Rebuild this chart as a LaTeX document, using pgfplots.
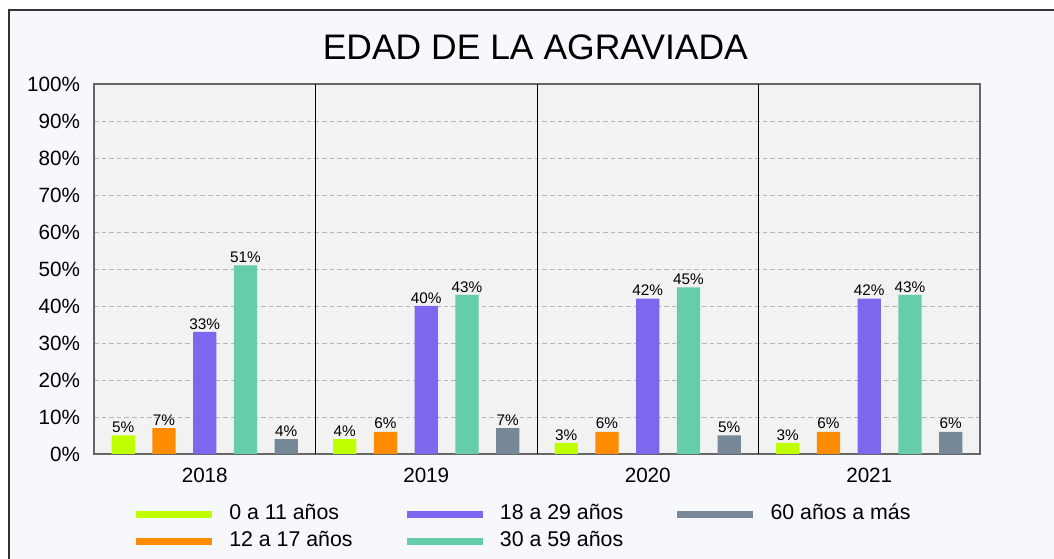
\documentclass[border=0pt]{standalone}
\usepackage{pgfplots}
\pgfplotsset{compat=1.18}
\usepackage{fontspec}
\setmainfont{Liberation Sans}
\definecolor{cA}{HTML}{BFFF00}
\definecolor{cB}{HTML}{FF8C00}
\definecolor{cC}{HTML}{7B68EE}
\definecolor{cD}{HTML}{66CDAA}
\definecolor{cE}{HTML}{778899}
\definecolor{frameBg}{HTML}{F7F8FC}
\definecolor{frameLine}{HTML}{333333}
\definecolor{plotBg}{HTML}{F2F2F2}
\definecolor{gridC}{HTML}{B4B4B4}
\definecolor{axisC}{HTML}{666666}
\begin{document}
\begin{tikzpicture}[x=1pt,y=1pt]
\useasboundingbox (0,0) rectangle (790.5,-419.25);
\fill[white] (0,0) rectangle (790.5,-419.25);
\begin{scope}
\clip (0,0) rectangle (790.5,-419.25);
\filldraw[fill=frameBg, draw=frameLine, line width=1.1pt] (6.75,-7.5) rectangle (800,-430);
\end{scope}
\node[font=\fontsize{26.6}{30}\selectfont] at (401.5,-35.25) {EDAD DE LA AGRAVIADA};
\begin{axis}[
  at={(70.5pt,-63pt)}, anchor=north west,
  scale only axis, width=664.5pt, height=277.5pt,
  xmin=0.5, xmax=4.5, ymin=0, ymax=100,
  ybar, bar width=0.104, /pgf/bar shift=0pt,
  /pgf/number format/assume math mode=true,
  xtick={1,2,3,4}, xticklabels={2018,2019,2020,2021},
  ytick={0,10,...,100},
  yticklabel={\pgfmathprintnumber{\tick}\%},
  ticklabel style={font=\fontsize{15.5}{18}\selectfont},
  yticklabel style={xshift=-7pt},
  xticklabel style={yshift=-3pt},
  ymajorgrids,
  major grid style={draw=gridC, dash pattern=on 3.5pt off 2.2pt, line width=0.6pt},
  extra x ticks={1.5,2.5,3.5}, extra x tick labels={},
  extra x tick style={grid=major, major grid style={draw=black, solid, line width=0.6pt}},
  axis background/.style={fill=plotBg},
  axis line style={draw=axisC, line width=0.8pt},
  tick style={draw=none},
  nodes near coords={\pgfmathprintnumber{\pgfplotspointmeta}\%},
  nodes near coords style={font=\fontsize{11.5}{13}\selectfont, text=black, inner sep=1.8pt},
  legend columns=3,
  legend image code/.code={\fill[#1] (0pt,-2.6pt) rectangle (57pt,2.6pt);},
  legend style={at={(axis description cs:0.0425,-0.126)}, anchor=north west, draw=none, fill=none,
    font=\fontsize{16}{19}\selectfont,
    nodes={inner sep=0pt, text height=12pt, text depth=4pt, anchor=west},
    /tikz/every odd column/.append style={column sep=13pt},
    row sep=4.3pt},
]
\addplot[fill=cA, draw=none] coordinates {(0.632,5) (1.632,4) (2.632,3) (3.632,3)};
\addlegendentry{\makebox[133pt][l]{0 a 11 años}}
\addplot[fill=cC, draw=none] coordinates {(1,33) (2,40) (3,42) (4,42)};
\addlegendentry{\makebox[133pt][l]{18 a 29 años}}
\addplot[fill=cE, draw=none] coordinates {(1.368,4) (2.368,7) (3.368,5) (4.368,6)};
\addlegendentry{60 años a más}
\addplot[fill=cB, draw=none] coordinates {(0.816,7) (1.816,6) (2.816,6) (3.816,6)};
\addlegendentry{\makebox[133pt][l]{12 a 17 años}}
\addplot[fill=cD, draw=none] coordinates {(1.184,51) (2.184,43) (3.184,45) (4.184,43)};
\addlegendentry{\makebox[133pt][l]{30 a 59 años}}
\end{axis}
\end{tikzpicture}
\end{document}
